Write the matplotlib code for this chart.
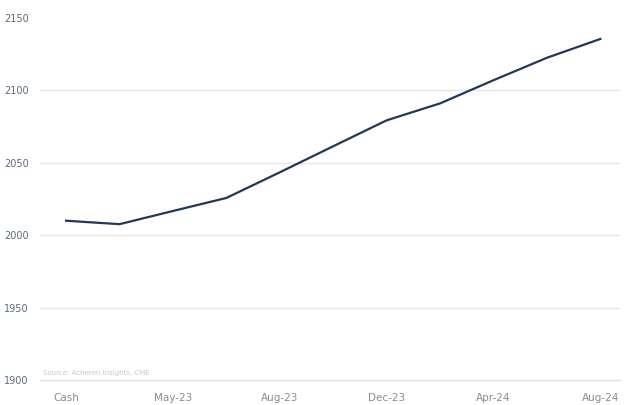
import numpy as np
import matplotlib
matplotlib.use('Agg')
import matplotlib.pyplot as plt

### Data
contracts = ['Cash', 'Apr-23', 'May-23', 'Jun-23', 'Aug-23', 'Oct-23',
             'Dec-23', 'Feb-24', 'Apr-24', 'Jun-24', 'Aug-24']
prices = [2010.0, 2007.6, 2016.7, 2025.7, 2043.4, 2061.4,
          2079.3, 2091.0, 2107.0, 2122.5, 2135.5]
shown_labels = ['Cash', 'May-23', 'Aug-23', 'Dec-23', 'Apr-24', 'Aug-24']
yticks = [1900, 1950, 2000, 2050, 2100, 2150]

### Figure
fig = plt.figure(figsize=(6.4, 4.05), dpi=100)
ax = fig.add_axes([0.0625, 0.0617, 0.9065, 0.894])

xpos = np.arange(len(contracts))
for yv in yticks[1:-1]:
    ax.axhline(yv, color='#e6e6e6', linewidth=0.9, zorder=1)

ax.plot(xpos, prices, color='#1f3a56', linewidth=1.6, zorder=3)

ax.set_xlim(-0.487, 10.37)
ax.set_ylim(1900, 2150)

ticks = [i for i, c in enumerate(contracts) if c in shown_labels]
ax.set_xticks(ticks)
ax.set_xticklabels([contracts[i] for i in ticks], fontsize=7.5, color='#8c8c8c')
ax.set_yticks(yticks)
ax.set_yticklabels([str(v) for v in yticks], fontsize=7, color='#5d6b7a')
ax.tick_params(axis='both', length=0)
ax.tick_params(axis='x', pad=9)
ax.tick_params(axis='y', pad=8)

for side in ['top', 'right', 'left']:
    ax.spines[side].set_visible(False)
ax.spines['bottom'].set_color('#e0e0e0')
ax.spines['bottom'].set_linewidth(1.0)

ax.text(0.005, 0.012, 'Source: Acheron Insights, CME', transform=ax.transAxes,
        fontsize=5, color='#c4c8cc', ha='left', va='bottom')

fig.savefig('out.png', dpi=100, facecolor='white')
